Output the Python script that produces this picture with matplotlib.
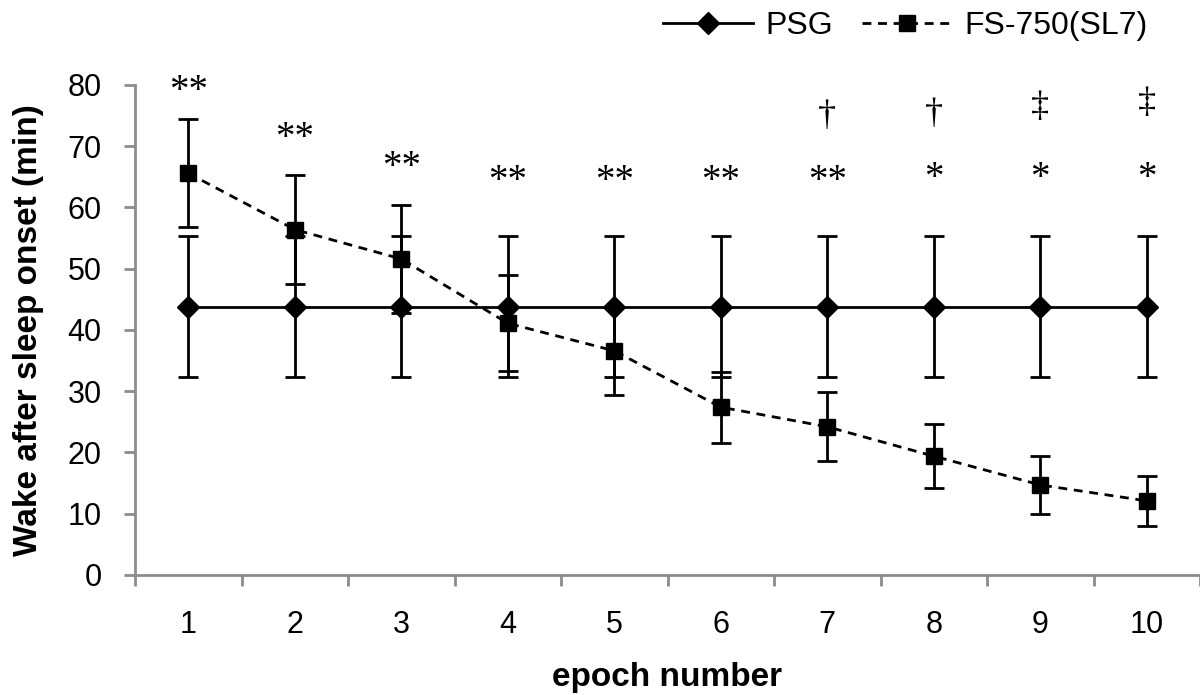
import numpy as np
import matplotlib.pyplot as plt
from matplotlib.lines import Line2D

# values
epochs = [1, 2, 3, 4, 5, 6, 7, 8, 9, 10]
psg_mean = [43.8, 43.8, 43.8, 43.8, 43.8, 43.8, 43.8, 43.8, 43.8, 43.8]
psg_err = [11.5, 11.5, 11.5, 11.5, 11.5, 11.5, 11.5, 11.5, 11.5, 11.5]
fs_mean = [65.6, 56.4, 51.6, 41.1, 36.6, 27.4, 24.2, 19.4, 14.7, 12.1]
fs_err = [8.8, 8.9, 8.8, 7.8, 7.2, 5.8, 5.6, 5.2, 4.7, 4.1]

# significance marks: (epoch, y, text)
star_marks = [(1, 79.0, "**"), (2, 71.2, "**"), (3, 66.5, "**"), (4, 64.2, "**"),
              (5, 64.2, "**"), (6, 64.2, "**"), (7, 64.2, "**"),
              (8, 64.8, "*"), (9, 64.8, "*"), (10, 64.8, "*")]
dagger_marks = [(7, 74.9, "\u2020"), (8, 75.2, "\u2020"), (9, 76.4, "\u2021"), (10, 76.9, "\u2021")]

plt.rcParams['font.family'] = ['Liberation Sans', 'DejaVu Sans']

fig = plt.figure(figsize=(12, 6.95), dpi=100)
ax = fig.add_axes([0.1125, 0.1727, 0.8875, 0.705])

x = np.array(epochs)
ax.errorbar(x, fs_mean, yerr=fs_err, color='black', lw=2, ls=(0, (3.2, 2.4)),
            marker='s', ms=11, capsize=7, capthick=2, elinewidth=2, zorder=3)
ax.errorbar(x, psg_mean, yerr=psg_err, color='black', lw=2, ls='-',
            marker='D', ms=11, capsize=7, capthick=2, elinewidth=2, zorder=4)

for ep, yv, t in star_marks:
    ax.text(ep, yv, t, ha='center', va='center', fontsize=28,
            family=['Liberation Serif', 'DejaVu Serif'])
for ep, yv, t in dagger_marks:
    ax.text(ep, yv, t, ha='center', va='center', fontsize=26,
            family=['Liberation Serif', 'DejaVu Serif'])

ax.set_xlim(0.5, 10.5)
ax.set_ylim(0, 80)
ax.set_yticks(range(0, 81, 10))
ax.set_xticks(epochs)
ax.set_xticks(np.arange(0.5, 11, 1), minor=True)

for s in ['top', 'right']:
    ax.spines[s].set_visible(False)
for s in ['left', 'bottom']:
    ax.spines[s].set_color('#8c8c8c')
    ax.spines[s].set_linewidth(2)

ax.tick_params(axis='y', direction='out', length=8, width=2, color='#8c8c8c',
               labelsize=22, pad=16)
ax.tick_params(axis='x', which='major', length=0, labelsize=22, pad=25)
ax.tick_params(axis='x', which='minor', direction='out', length=8, width=2,
               color='#8c8c8c')

ax.set_ylabel('Wake after sleep onset (min)', fontsize=24, fontweight='bold',
              labelpad=17)
ax.set_xlabel('epoch number', fontsize=24, fontweight='bold', labelpad=16)

handles = [Line2D([], [], color='black', lw=2, marker='D', ms=11),
           Line2D([], [], color='black', lw=2, ls=(0, (3.2, 2.4)), marker='s', ms=11)]
fig.legend(handles, ['PSG', 'FS-750(SL7)'], loc='upper right',
           bbox_to_anchor=(0.98, 1.025), ncol=2, frameon=False, fontsize=23,
           handlelength=2.8, columnspacing=0.9, handletextpad=0.4)

plt.savefig('out.png', dpi=100)
